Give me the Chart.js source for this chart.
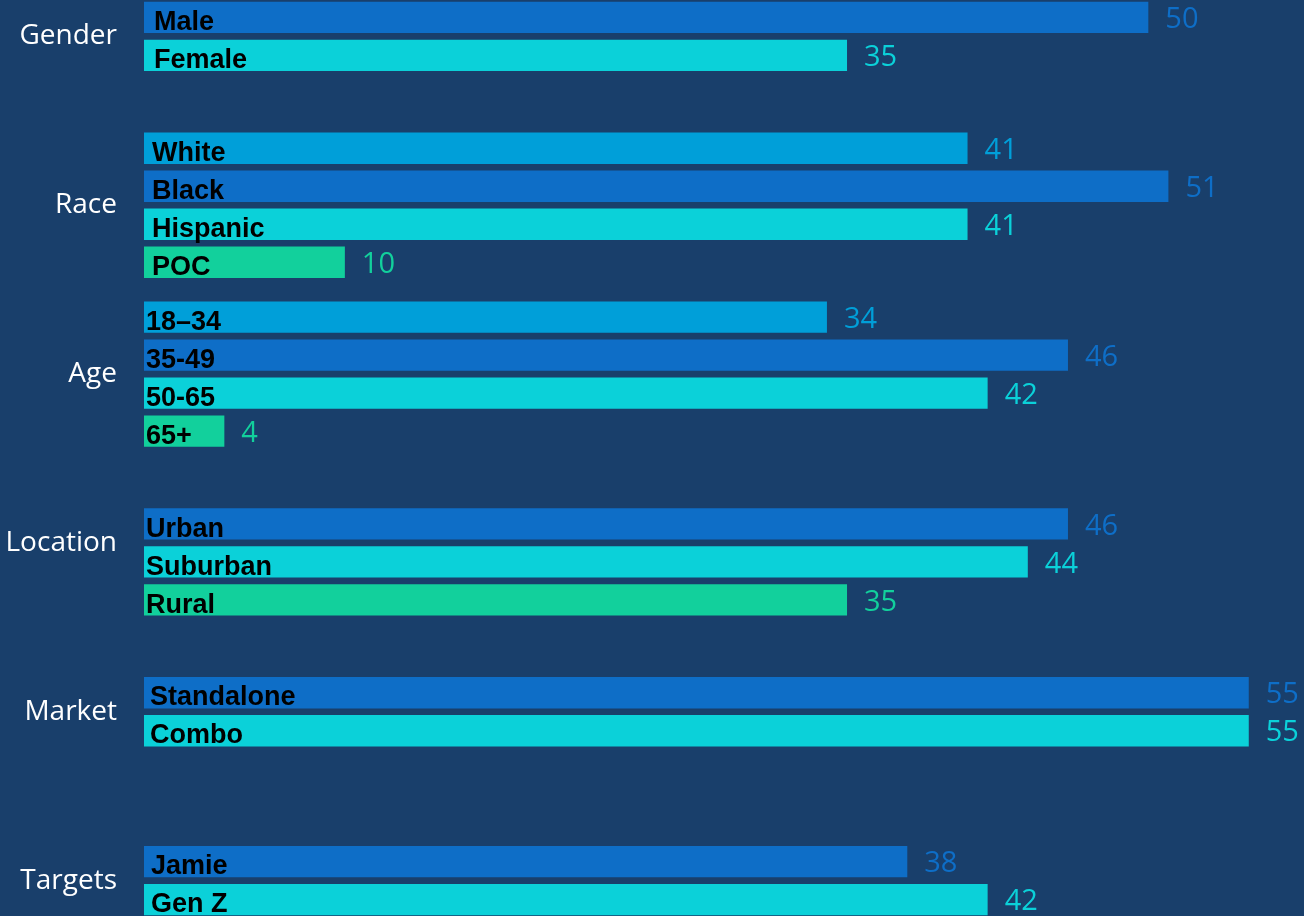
<!DOCTYPE html>
<html lang="en">
<head>
  <meta charset="UTF-8" />
  <title>Audience Breakdown - Grouped Bar Chart</title>
  <style>
    html, body {
      margin: 0;
      padding: 0;
      background: #193f6b;
      overflow: hidden;
      width: 1304px;
      height: 916px;
    }

    .wrap {
      position: absolute;
      left: 0;
      top: -48px;
      width: 1304px;
      height: 1013px;
    }
  </style>
  <script src="https://cdn.jsdelivr.net/npm/chart.js"></script>
</head>
<body>
  <div class="wrap">
    <canvas id="audienceChart"></canvas>
  </div>

  <script>
    const categories = ["Gender", "Race", "Age", "Location", "Market", "Targets"];

    // four bar slots per group, empty slots are null
    const slot1Values = [null, 41, 34, null, null, null];
    const slot1Labels = [null, "White", "18–34", null, null, null];

    const slot2Values = [50, 51, 46, 46, 55, 38];
    const slot2Labels = ["Male", "Black", "35-49", "Urban", "Standalone", "Jamie"];

    const slot3Values = [35, 41, 42, 44, 55, 42];
    const slot3Labels = ["Female", "Hispanic", "50-65", "Suburban", "Combo", "Gen Z"];

    const slot4Values = [null, 10, 4, 35, null, null];
    const slot4Labels = [null, "POC", "65+", "Rural", null, null];

    const slotColors = ["#009fd9", "#0e6ec7", "#0bd1d9", "#12d09c"];

    // how far the bold name sits in from the bar start, per group
    const nameInset = [10, 8, 2, 2, 6, 7];

    const barText = {
      id: "barText",
      afterDatasetsDraw(chart) {
        const ctx = chart.ctx;
        const left = chart.chartArea.left;
        ctx.save();
        ctx.textAlign = "left";
        ctx.textBaseline = "alphabetic";
        chart.data.datasets.forEach((ds, di) => {
          const meta = chart.getDatasetMeta(di);
          meta.data.forEach((bar, i) => {
            const v = ds.data[i];
            if (v === null || v === undefined) return;
            const bottom = bar.y + bar.height / 2;

            ctx.font = "bold 27px 'Liberation Sans', Arial, sans-serif";
            ctx.fillStyle = "#000";
            ctx.fillText(ds.names[i], left + nameInset[i], bottom - 3);

            ctx.font = "29px 'Open Sans', sans-serif";
            ctx.fillStyle = ds.backgroundColor;
            ctx.fillText(String(v), bar.x + 17, bottom - 5);
          });
        });
        ctx.restore();
      }
    };

    const ctx = document.getElementById("audienceChart").getContext("2d");

    new Chart(ctx, {
      type: "bar",
      data: {
        labels: categories,
        datasets: [
          { data: slot1Values, names: slot1Labels, backgroundColor: slotColors[0] },
          { data: slot2Values, names: slot2Labels, backgroundColor: slotColors[1] },
          { data: slot3Values, names: slot3Labels, backgroundColor: slotColors[2] },
          { data: slot4Values, names: slot4Labels, backgroundColor: slotColors[3] }
        ]
      },
      options: {
        indexAxis: "y",
        responsive: true,
        maintainAspectRatio: false,
        animation: false,
        layout: { padding: 0 },
        datasets: {
          bar: {
            categoryPercentage: 0.9,
            barPercentage: 0.825
          }
        },
        plugins: {
          legend: { display: false },
          tooltip: { enabled: false }
        },
        scales: {
          x: {
            display: false,
            min: 0,
            max: 57.75
          },
          y: {
            grid: { display: false, drawTicks: false },
            border: { display: false },
            ticks: {
              color: "#ffffff",
              padding: 27,
              font: { family: "'Open Sans', sans-serif", size: 28 }
            },
            afterFit(scale) {
              scale.width = 144;
              scale.paddingTop = 0;
              scale.paddingBottom = 0;
            }
          }
        }
      },
      plugins: [barText]
    });
  </script>
</body>
</html>
